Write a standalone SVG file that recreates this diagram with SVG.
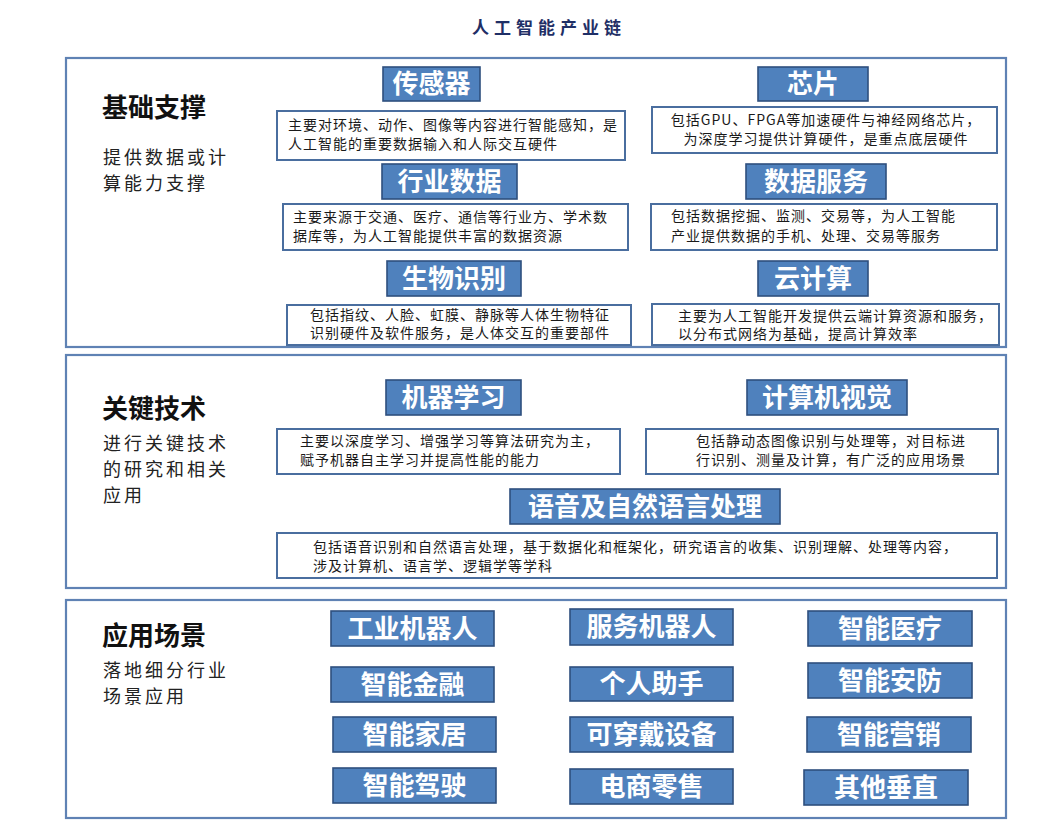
<svg xmlns="http://www.w3.org/2000/svg" width="1056" height="825" viewBox="0 0 1056 825">
<style>
.sec{fill:#ffffff;stroke:#5f82b4;stroke-width:2.2}
.btn{fill:#4f81bd;stroke:#2e4f7e;stroke-width:1.6}
.bt{font-family:"Noto Sans CJK SC","Noto Sans",sans-serif;font-weight:700;font-size:26px;fill:#ffffff;text-anchor:middle}
.box{fill:#ffffff;stroke:#4a6e9f;stroke-width:2}
.d{font-family:"Noto Sans CJK SC","Noto Sans",sans-serif;font-size:14px;letter-spacing:1px;fill:#1a1a1a}
.h{font-family:"Noto Sans CJK SC","Noto Sans",sans-serif;font-weight:700;font-size:26px;fill:#111111}
.s{font-family:"Noto Sans CJK SC","Noto Sans",sans-serif;font-size:18px;letter-spacing:3px;fill:#222222}
.title{font-family:"Noto Sans CJK SC","Noto Sans",sans-serif;font-weight:700;font-size:17px;fill:#1f2f66;letter-spacing:5px}
</style>
<rect width="1056" height="825" fill="#ffffff"/>
<text class="title" x="472" y="34">人工智能产业链</text>

<g id="sec-base">
<rect class="sec" x="66" y="58" width="940" height="289"/>
<text class="h" x="102" y="117">基础支撑</text>
<text class="s" x="103" y="164">提供数据或计</text>
<text class="s" x="103" y="190">算能力支撑</text>
</g>
<g id="sensor">
<rect class="btn" x="383" y="67" width="97" height="34"/>
<text class="bt" x="431.5" y="93">传感器</text>
<rect class="box" x="277" y="111" width="348" height="49"/>
<text class="d" x="288" y="130">主要对环境、动作、图像等内容进行智能感知，是</text>
<text class="d" x="288" y="149">人工智能的重要数据输入和人际交互硬件</text>
</g>
<g id="industry-data">
<rect class="btn" x="382" y="164" width="135" height="35"/>
<text class="bt" x="449.5" y="191">行业数据</text>
<rect class="box" x="283" y="204" width="345" height="46"/>
<text class="d" x="293" y="222">主要来源于交通、医疗、通信等行业方、学术数</text>
<text class="d" x="293" y="241">据库等，为人工智能提供丰富的数据资源</text>
</g>
<g id="biometrics">
<rect class="btn" x="387" y="261" width="134" height="35"/>
<text class="bt" x="454" y="288">生物识别</text>
<rect class="box" x="287" y="305" width="344" height="40"/>
<text class="d" x="460" y="320" text-anchor="middle">包括指纹、人脸、虹膜、静脉等人体生物特征</text>
<text class="d" x="460" y="338" text-anchor="middle">识别硬件及软件服务，是人体交互的重要部件</text>
</g>
<g id="chip">
<rect class="btn" x="758" y="67" width="110" height="34"/>
<text class="bt" x="813" y="93">芯片</text>
<rect class="box" x="652" y="107" width="345" height="46"/>
<text class="d" x="826" y="125" text-anchor="middle">包括GPU、FPGA等加速硬件与神经网络芯片，</text>
<text class="d" x="826" y="144" text-anchor="middle">为深度学习提供计算硬件，是重点底层硬件</text>
</g>
<g id="data-service">
<rect class="btn" x="746" y="164" width="140" height="35"/>
<text class="bt" x="816" y="191">数据服务</text>
<rect class="box" x="651" y="204" width="346" height="46"/>
<text class="d" x="671" y="221">包括数据挖掘、监测、交易等，为人工智能</text>
<text class="d" x="671" y="241">产业提供数据的手机、处理、交易等服务</text>
</g>
<g id="cloud">
<rect class="btn" x="758" y="261" width="110" height="35"/>
<text class="bt" x="813" y="288">云计算</text>
<rect class="box" x="652" y="304" width="347" height="41"/>
<text class="d" x="678" y="321">主要为人工智能开发提供云端计算资源和服务，</text>
<text class="d" x="678" y="339">以分布式网络为基础，提高计算效率</text>
</g>

<g id="sec-tech">
<rect class="sec" x="66" y="355" width="940" height="233"/>
<text class="h" x="102" y="418">关键技术</text>
<text class="s" x="103" y="450">进行关键技术</text>
<text class="s" x="103" y="476">的研究和相关</text>
<text class="s" x="103" y="502">应用</text>
</g>
<g id="ml">
<rect class="btn" x="386" y="380" width="135" height="35"/>
<text class="bt" x="453.5" y="407">机器学习</text>
<rect class="box" x="277" y="429" width="343" height="45"/>
<text class="d" x="300" y="446">主要以深度学习、增强学习等算法研究为主，</text>
<text class="d" x="300" y="465">赋予机器自主学习并提高性能的能力</text>
</g>
<g id="cv">
<rect class="btn" x="747" y="380" width="160" height="35"/>
<text class="bt" x="827" y="407">计算机视觉</text>
<rect class="box" x="646" y="429" width="352" height="45"/>
<text class="d" x="831" y="446" text-anchor="middle">包括静动态图像识别与处理等，对目标进</text>
<text class="d" x="831" y="465" text-anchor="middle">行识别、测量及计算，有广泛的应用场景</text>
</g>
<g id="nlp">
<rect class="btn" x="510" y="489" width="270" height="35"/>
<text class="bt" x="645" y="516">语音及自然语言处理</text>
<rect class="box" x="277" y="533" width="720" height="45"/>
<text class="d" x="313" y="552">包括语音识别和自然语言处理，基于数据化和框架化，研究语言的收集、识别理解、处理等内容，</text>
<text class="d" x="313" y="571">涉及计算机、语言学、逻辑学等学科</text>
</g>

<g id="sec-app">
<rect class="sec" x="66" y="600" width="940" height="218"/>
<text class="h" x="102" y="645">应用场景</text>
<text class="s" x="103" y="677">落地细分行业</text>
<text class="s" x="103" y="703">场景应用</text>
</g>
<g id="app-1"><rect class="btn" x="331" y="611" width="163" height="35"/><text class="bt" x="412.5" y="638">工业机器人</text></g>
<g id="app-2"><rect class="btn" x="331" y="667" width="163" height="35"/><text class="bt" x="412.5" y="694">智能金融</text></g>
<g id="app-3"><rect class="btn" x="333" y="717" width="163" height="35"/><text class="bt" x="414.5" y="744">智能家居</text></g>
<g id="app-4"><rect class="btn" x="333" y="768" width="163" height="35"/><text class="bt" x="414.5" y="795">智能驾驶</text></g>
<g id="app-5"><rect class="btn" x="570" y="609" width="163" height="36"/><text class="bt" x="651.5" y="636">服务机器人</text></g>
<g id="app-6"><rect class="btn" x="570" y="667" width="163" height="34"/><text class="bt" x="651.5" y="693">个人助手</text></g>
<g id="app-7"><rect class="btn" x="570" y="717" width="163" height="35"/><text class="bt" x="651.5" y="744">可穿戴设备</text></g>
<g id="app-8"><rect class="btn" x="570" y="769" width="163" height="35"/><text class="bt" x="651.5" y="796">电商零售</text></g>
<g id="app-9"><rect class="btn" x="808" y="611" width="164" height="35"/><text class="bt" x="890" y="638">智能医疗</text></g>
<g id="app-10"><rect class="btn" x="808" y="663" width="164" height="35"/><text class="bt" x="890" y="690">智能安防</text></g>
<g id="app-11"><rect class="btn" x="807" y="717" width="164" height="35"/><text class="bt" x="889" y="744">智能营销</text></g>
<g id="app-12"><rect class="btn" x="804" y="770" width="164" height="35"/><text class="bt" x="886" y="797">其他垂直</text></g>
<g id="connectors"></g>
</svg>
